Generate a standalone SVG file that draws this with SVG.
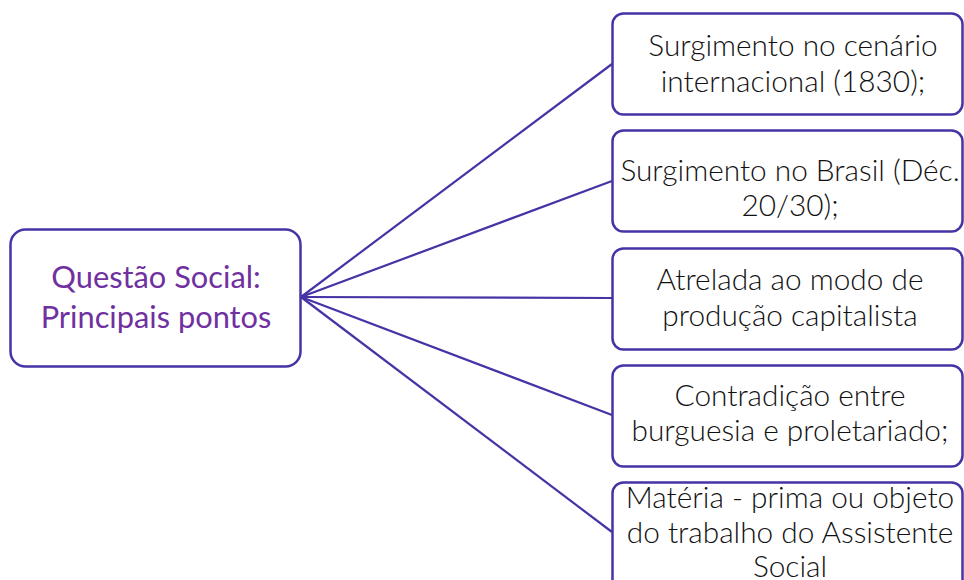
<svg xmlns="http://www.w3.org/2000/svg" width="964" height="580" viewBox="0 0 964 580">
<style>
.box{fill:#fff;stroke:#4633A6;stroke-width:2.5}
.edge{stroke:#4633A6;stroke-width:2.2;fill:none}
.t{font-family:Lato,"Open Sans","Liberation Sans",sans-serif;font-weight:300;font-size:29.8px;fill:#111;text-anchor:middle}
.tl{font-family:Lato,"Open Sans","Liberation Sans",sans-serif;font-weight:400;font-size:30.8px;fill:#7030A0;text-anchor:middle}
</style>
<rect width="964" height="580" fill="#fff"/>
<g id="connectors">
<line class="edge" x1="301" y1="297" x2="612" y2="64"/>
<line class="edge" x1="301" y1="297" x2="612" y2="181"/>
<line class="edge" x1="301" y1="297" x2="612" y2="298"/>
<line class="edge" x1="301" y1="297" x2="612" y2="415"/>
<line class="edge" x1="301" y1="297" x2="612" y2="532"/>
</g>
<g id="root">
<rect class="box" x="10.5" y="229.5" width="290" height="137" rx="15"/>
<text class="tl" x="156" y="288">Questão Social:</text>
<text class="tl" x="156" y="328">Principais pontos</text>
</g>
<g id="n1">
<rect class="box" x="612.5" y="13.5" width="350" height="101" rx="11"/>
<text class="t" x="793" y="56">Surgimento no cenário</text>
<text class="t" x="793" y="92">internacional (1830);</text>
</g>
<g id="n2">
<rect class="box" x="612.5" y="130.5" width="350" height="101" rx="11"/>
<text class="t" x="790" y="181">Surgimento no Brasil (Déc.</text>
<text class="t" x="790" y="216">20/30);</text>
</g>
<g id="n3">
<rect class="box" x="612.5" y="248.5" width="350" height="101" rx="11"/>
<text class="t" x="790" y="290">Atrelada ao modo de</text>
<text class="t" x="790" y="326">produção capitalista</text>
</g>
<g id="n4">
<rect class="box" x="612.5" y="365.5" width="350" height="101" rx="11"/>
<text class="t" x="790" y="406">Contradição entre</text>
<text class="t" x="790" y="441">burguesia e proletariado;</text>
</g>
<g id="n5">
<rect class="box" x="612.5" y="482.5" width="350" height="110" rx="11"/>
<text class="t" x="790" y="508">Matéria - prima ou objeto</text>
<text class="t" x="790" y="543">do trabalho do Assistente</text>
<text class="t" x="790" y="577">Social</text>
</g>
</svg>
